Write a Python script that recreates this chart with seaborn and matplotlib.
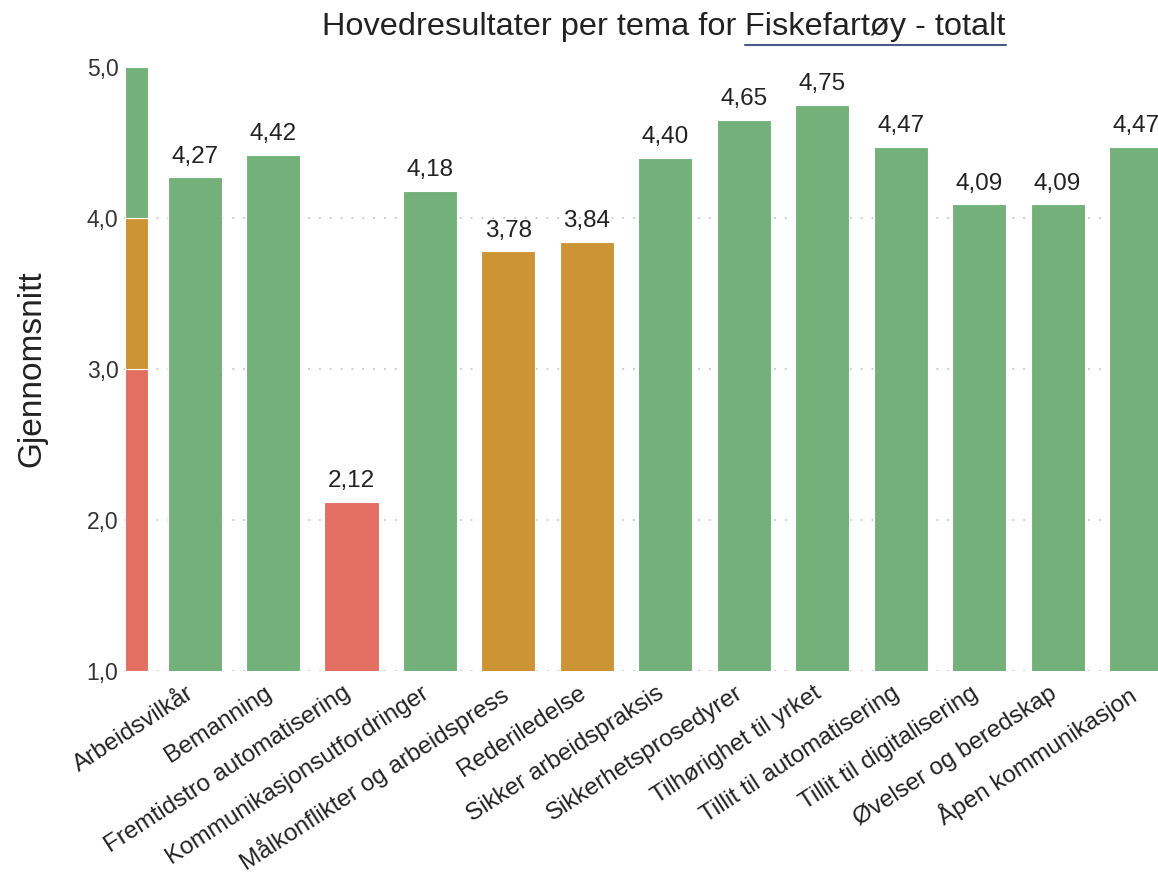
import pandas as pd
import seaborn as sns
import matplotlib.pyplot as plt
from matplotlib.lines import Line2D
from matplotlib.transforms import ScaledTranslation

# data
themes = ["Arbeidsvilkår", "Bemanning", "Fremtidstro automatisering",
          "Kommunikasjonsutfordringer", "Målkonflikter og arbeidspress",
          "Rederiledelse", "Sikker arbeidspraksis", "Sikkerhetsprosedyrer",
          "Tilhørighet til yrket", "Tillit til automatisering",
          "Tillit til digitalisering", "Øvelser og beredskap",
          "Åpen kommunikasjon"]
means = [4.27, 4.42, 2.12, 4.18, 3.78, 3.84, 4.40, 4.65, 4.75, 4.47, 4.09, 4.09, 4.47]

# colour bands (red < 3 <= orange < 4 <= green)
band_low = [1.0, 3.0, 4.0]
band_high = [3.0, 4.0, 5.0]
band_colors = ["#E36F63", "#CC9434", "#73B07A"]

y_ticks = [1, 2, 3, 4, 5]
title_main = "Hovedresultater per tema for "
title_sub = "Fiskefartøy - totalt"


def band_color(v):
    for lo, hi, c in zip(band_low, band_high, band_colors):
        if lo <= v < hi or (hi == band_high[-1] and v >= lo):
            return c
    return band_colors[0]


df = pd.DataFrame({"tema": themes, "snitt": means})
df["farge"] = [band_color(v) for v in means]

sns.set_theme(style="white")
plt.rcParams["font.family"] = ["Liberation Sans", "DejaVu Sans"]

fig = plt.figure(figsize=(11.58, 8.82), dpi=100)
ax = fig.add_axes([0.1071, 0.2392, 0.8929, 0.6848])

sns.barplot(data=df, x="tema", y="snitt", hue="tema", palette=list(df["farge"]),
            legend=False, width=0.69, saturation=1, edgecolor="#ffffff",
            linewidth=0.8, ax=ax, zorder=3)

# narrow colour-scale bar at the left
ax.bar([-0.745] * 3, [h - l for l, h in zip(band_low, band_high)], bottom=band_low,
       width=0.29, color=band_colors, edgecolor="#ffffff", linewidth=0.8, zorder=3)

# dotted grid lines
for t in y_ticks[:-1]:
    ax.axhline(t, color="#c8c8c8", linestyle=(0, (1, 5)), linewidth=1.3, zorder=1)

ax.set_ylim(1, 5)
ax.set_xlim(-0.9, 12.28)
ax.set_yticks(y_ticks)
ax.set_yticklabels([f"{t:.1f}".replace(".", ",") for t in y_ticks],
                   fontsize=16.5, color="#333333")
ax.tick_params(axis="y", length=0, pad=4)
ax.tick_params(axis="x", length=0, pad=8)
ax.set_xticks(range(len(themes)))
ax.set_xticklabels(themes, rotation=33, ha="right", rotation_mode="anchor",
                   fontsize=17.5, color="#222222")
shift = ScaledTranslation(-9 / 100, 0, fig.dpi_scale_trans)
for lab in ax.get_xticklabels():
    lab.set_transform(lab.get_transform() + shift)
ax.set_xlabel("")
ax.set_ylabel("Gjennomsnitt", fontsize=24, color="#222222", labelpad=28)
sns.despine(ax=ax, left=True, bottom=True)

for i, v in enumerate(means):
    ax.annotate(f"{v:.2f}".replace(".", ","), (i, v), xytext=(0, 7),
                textcoords="offset points", ha="center", va="bottom",
                fontsize=17.5, color="#222222", annotation_clip=False)

# title with underlined second part
ty = 1 - 27 / 882
t1 = fig.text(322 / 1158, ty, title_main, fontsize=23.4,
              color="#222222", ha="left", va="center")
fig.canvas.draw()
r = fig.canvas.get_renderer()
bb = t1.get_window_extent(r)
t2 = fig.text(bb.x1 / fig.bbox.width, ty, title_sub, fontsize=23.4,
              color="#222222", ha="left", va="center")
fig.canvas.draw()
bb2 = t2.get_window_extent(r)
yline = 1 - 45 / 882
fig.add_artist(Line2D([bb2.x0 / fig.bbox.width, bb2.x1 / fig.bbox.width],
                      [yline, yline], color="#4A5A8A", linewidth=1.5))

fig.savefig("out.png", dpi=100)
